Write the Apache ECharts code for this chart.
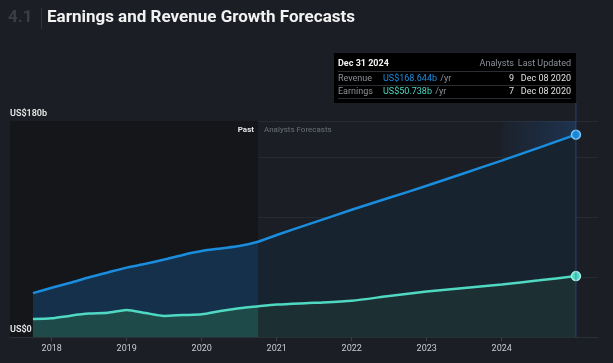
<!DOCTYPE html>
<html>
<head>
<meta charset="utf-8">
<script src="https://cdn.jsdelivr.net/npm/echarts@6/dist/echarts.min.js"></script>
<style>
html,body{margin:0;padding:0;background:#1b1e24;}
#c{width:613px;height:363px;}
</style>
</head>
<body>
<div id="c"></div>
<script>
// ---- data (decimal years, values in US$ billions) ----
const pastDates      = [2017.75, 2018.0, 2018.25, 2018.5, 2018.75, 2019.0, 2019.25, 2019.5, 2019.75, 2020.0, 2020.25, 2020.5, 2020.75];
const revenuePast    = [36.6, 41.0, 45.2, 49.8, 53.8, 57.8, 61.0, 64.6, 68.4, 71.6, 73.8, 75.8, 79.4];
const earningsPast   = [15.0, 15.6, 17.8, 19.5, 20.2, 22.6, 20.0, 17.6, 18.3, 18.9, 21.7, 24.0, 25.6];
const forecastDates  = [2021.0, 2021.5, 2022.0, 2022.5, 2023.0, 2023.5, 2024.0, 2024.5, 2024.99];
const revenueFcst    = [85.0, 95.5, 106.0, 116.0, 126.0, 136.5, 147.0, 157.8, 168.644];
const earningsFcst   = [27.0, 28.5, 30.2, 34.2, 37.9, 40.9, 43.8, 47.2, 50.738];
const yearTicks      = [2018, 2019, 2020, 2021, 2022, 2023, 2024];
const pastEnd        = 2020.75;
const highlightStart = 2024.0;
const xMin = 2017.444, xMax = 2025.284;

const allDates = pastDates.concat(forecastDates);
const revAll = revenuePast.concat(revenueFcst);
const earnAll = earningsPast.concat(earningsFcst);
function pairs(vals){
  return allDates.map((d,i)=>{
    if(i===allDates.length-1) return {value:[d,vals[i]], symbol:'circle', symbolSize:9};
    return {value:[d,vals[i]], symbol:'none'};
  });
}
const revData = pairs(revAll);
const earnData = pairs(earnAll);
const split = (pastEnd - allDates[0])/(allDates[allDates.length-1]-allDates[0]);

function hGrad(c1,c2){
  return new echarts.graphic.LinearGradient(0,0,1,0,[
    {offset:0,color:c1},{offset:split,color:c1},{offset:split+0.0005,color:c2},{offset:1,color:c2}]);
}

const chart = echarts.init(document.getElementById('c'));
const FONT = 'Roboto, "Noto Sans", sans-serif';
const option = {
  backgroundColor:'#1b1e24',
  animation:false,
  textStyle:{fontFamily:FONT},
  grid:{left:10,right:15,top:121,bottom:26},
  xAxis:{
    type:'value', min:xMin, max:xMax,
    axisLine:{show:true,lineStyle:{color:'#2b2f36'}},
    axisTick:{show:true,customValues:yearTicks,length:4,lineStyle:{color:'#3a3f47'}},
    axisLabel:{customValues:yearTicks,formatter:v=>String(Math.round(v)),color:'#c9ccd0',fontSize:9,margin:7,fontFamily:FONT},
    splitLine:{show:false}
  },
  yAxis:{
    type:'value', min:0, max:180, interval:50,
    axisLine:{show:false}, axisTick:{show:false},
    axisLabel:{inside:true,verticalAlign:'bottom',margin:0,padding:[0,0,3,0],showMinLabel:true,showMaxLabel:true,hideOverlap:false,
      formatter:v=> v===0?'US$0':(v===180?'US$180b':''),
      color:'#e8e8e8',fontSize:9,fontWeight:600,fontFamily:FONT},
    splitLine:{show:true,lineStyle:{color:'#262a31',width:1}}
  },
  series:[
    {type:'line',name:'bgPast',data:[],z:1,silent:true,
      markArea:{silent:true,itemStyle:{color:'#14161a'},data:[[{xAxis:xMin},{xAxis:pastEnd}]]}},
    {type:'line',name:'revArea',data:revData,smooth:0.25,showSymbol:false,z:2,lineStyle:{width:0},
      areaStyle:{color:hGrad('#15304a','#172430'),opacity:1}},
    {type:'line',name:'earnArea',data:earnData,smooth:0.25,showSymbol:false,z:3,lineStyle:{width:0},
      areaStyle:{color:hGrad('#1f4a4a','#1c2f32'),opacity:1}},
    {type:'line',name:'hl',data:[],z:4,silent:true,
      markArea:{silent:true,itemStyle:{color:new echarts.graphic.LinearGradient(0,0,1,0,[
        {offset:0,color:'rgba(35,90,160,0.06)'},{offset:1,color:'rgba(35,95,170,0.32)'}])},
        data:[[{xAxis:highlightStart},{xAxis:allDates[allDates.length-1]}]]}},
    {type:'line',name:'Revenue',data:revData,smooth:0.25,z:5,showSymbol:true,showAllSymbol:true,
      lineStyle:{color:'#1a8ddf',width:2.5},
      itemStyle:{color:'#1a8ddf',borderColor:'#7fc3f2',borderWidth:1.5}},
    {type:'line',name:'Earnings',data:earnData,smooth:0.25,z:6,showSymbol:true,showAllSymbol:true,
      lineStyle:{color:'#4fd8c2',width:2.5},
      itemStyle:{color:'#4fd8c2',borderColor:'#a8efe3',borderWidth:1.5}}
  ]
};
chart.setOption(option);

const xEnd = chart.convertToPixel({xAxisIndex:0}, allDates[allDates.length-1]);
const xPast = chart.convertToPixel({xAxisIndex:0}, pastEnd);
const yZero = chart.convertToPixel({yAxisIndex:0}, 0);
const boxL = 334, boxT = 53, boxR = xEnd, boxB = 103;
const gray = '#8d9298';
function t(x,y,text,color,opts){
  return Object.assign({type:'text',x:x,y:y,z:100,style:Object.assign({text:text,fill:color,font:'9px '+FONT,textVerticalAlign:'middle'},opts||{})});
}
chart.setOption({graphic:[
  {type:'line',z:50,shape:{x1:xEnd,y1:boxB,x2:xEnd,y2:337},style:{stroke:'rgba(45,100,170,0.55)',lineWidth:1}},
  t(10,yZero-3,'US$0','#e8e8e8',{font:'600 9px '+FONT,textVerticalAlign:'bottom'}),
  t(8,18,'4.1','#3b3f45',{font:'bold 17px '+FONT}),
  {type:'line',z:100,shape:{x1:41.5,y1:8,x2:41.5,y2:29},style:{stroke:'#30343a',lineWidth:1}},
  t(47,18,'Earnings and Revenue Growth Forecasts','#f2f2f2',{font:'bold 17px '+FONT}),
  t(xPast-4,130,'Past','#e6e6e6',{font:'bold 8px '+FONT,textAlign:'right'}),
  t(xPast+6,130,'Analysts Forecasts','#6c7179',{font:'8px '+FONT}),
  {type:'rect',z:90,shape:{x:boxL,y:boxT,width:boxR-boxL,height:boxB-boxT},style:{fill:'#000000'}},
  {type:'line',z:95,shape:{x1:338,y1:71.5,x2:571,y2:71.5},style:{stroke:'#2a2d32',lineWidth:1}},
  {type:'line',z:95,shape:{x1:338,y1:85.5,x2:571,y2:85.5},style:{stroke:'#2a2d32',lineWidth:1}},
  {type:'line',z:95,shape:{x1:338,y1:98.5,x2:571,y2:98.5},style:{stroke:'#2a2d32',lineWidth:1}},
  t(338,64,'Dec 31 2024','#f2f2f2',{font:'bold 9px '+FONT}),
  t(514,64,'Analysts',gray,{textAlign:'right'}),
  t(571,64,'Last Updated',gray,{textAlign:'right'}),
  t(338,78.5,'Revenue',gray),
  {type:'text',z:100,x:383,y:78.5,style:{rich:{a:{fill:'#1a8ddf',font:'9px '+FONT},b:{fill:gray,font:'9px '+FONT}},text:'{a|US$168.644b} {b|/yr}',textVerticalAlign:'middle'}},
  t(514,78.5,'9','#e0e0e0',{textAlign:'right'}),
  t(571,78.5,'Dec 08 2020','#e0e0e0',{textAlign:'right'}),
  t(338,92,'Earnings',gray),
  {type:'text',z:100,x:383,y:92,style:{rich:{a:{fill:'#4fd8c2',font:'9px '+FONT},b:{fill:gray,font:'9px '+FONT}},text:'{a|US$50.738b} {b|/yr}',textVerticalAlign:'middle'}},
  t(514,92,'7','#e0e0e0',{textAlign:'right'}),
  t(571,92,'Dec 08 2020','#e0e0e0',{textAlign:'right'})
]});
</script>
</body>
</html>
